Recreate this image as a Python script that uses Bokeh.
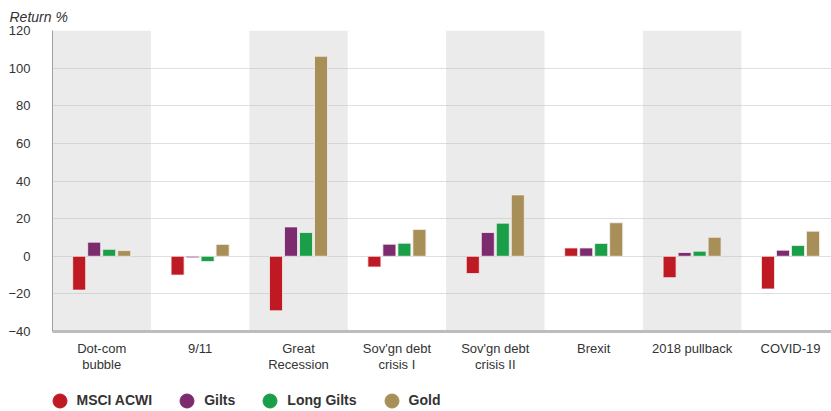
import numpy as np
from bokeh.plotting import figure
from bokeh.layouts import column
from bokeh.models import ColumnDataSource, Range1d, FixedTicker, Legend, LegendItem
from bokeh.transform import dodge
from bokeh.embed import file_html
from bokeh.resources import INLINE

categories = ["Dot-com\nbubble", "9/11", "Great\nRecession", "Sov'gn debt\ncrisis I",
              "Sov'gn debt\ncrisis II", "Brexit", "2018 pullback", "COVID-19"]
series_names = ["MSCI ACWI", "Gilts", "Long Gilts", "Gold"]
msci = [-18, -10, -29, -5.7, -9.2, 4.4, -11.4, -17.4]
gilts = [7.5, -0.8, 15.6, 6.4, 12.6, 4.4, 2.0, 3.2]
long_gilts = [3.7, -2.8, 12.6, 6.9, 17.6, 6.8, 2.7, 5.7]
gold = [3.0, 6.3, 106.3, 14.2, 32.6, 17.8, 10.1, 13.3]
y_ticks = [-40, -20, 0, 20, 40, 60, 80, 100, 120]

colors = ["#BF1A24", "#7B2B6E", "#1A9E48", "#A88F58"]
FONT = "Liberation Sans"

n = len(categories)
centers = np.arange(n) + 0.5
src = ColumnDataSource(dict(x=centers, msci=msci, gilts=gilts, long_gilts=long_gilts, gold=gold))

MAIN_H = 380
p = figure(width=831, height=MAIN_H, output_backend="svg", toolbar_location=None,
           x_range=Range1d(0, 779 / 98.4), y_range=Range1d(y_ticks[0], y_ticks[-1]),
           min_border_left=52, min_border_right=0, min_border_top=29, min_border_bottom=MAIN_H - 331,
           title="Return %")
p.outline_line_color = None
p.background_fill_color = "white"

# alternating bands
band_idx = np.arange(0, n, 2)
p.quad(left=band_idx, right=band_idx + 1, bottom=y_ticks[0], top=y_ticks[-1],
       fill_color="#EBEBEB", line_color=None, level="image")

p.xgrid.grid_line_color = None
p.ygrid.grid_line_color = "#BEBEBE"
p.ygrid.grid_line_dash = "1 1"
p.ygrid.ticker = FixedTicker(ticks=y_ticks)

pitch = 0.1525
width = 0.132
keys = ["msci", "gilts", "long_gilts", "gold"]
for k, (key, col) in enumerate(zip(keys, colors)):
    off = (k - 1.5) * pitch
    p.vbar(x=dodge("x", off), top=key, bottom=0, width=width, source=src,
           fill_color=col, line_color="#F4EFEF", line_width=0.8)

# axes
p.yaxis.ticker = FixedTicker(ticks=y_ticks)
p.yaxis.major_tick_line_color = None
p.yaxis.minor_tick_line_color = None
p.yaxis.axis_line_color = "#A0A0A0"
p.yaxis.major_label_text_font = FONT
p.yaxis.major_label_text_font_size = "13px"
p.yaxis.major_label_text_color = "#333333"
p.yaxis.major_label_standoff = 16

p.xaxis.ticker = FixedTicker(ticks=list(centers))
p.xaxis.major_label_overrides = {float(c): lab for c, lab in zip(centers, categories)}
p.xaxis.major_tick_line_color = None
p.xaxis.minor_tick_line_color = None
p.xaxis.axis_line_color = "#BDBDBD"
p.xaxis.axis_line_width = 3
p.xaxis.major_label_text_font = FONT
p.xaxis.major_label_text_font_size = "13px"
p.xaxis.major_label_text_color = "#333333"
p.xaxis.major_label_text_line_height = 1.1
p.xaxis.major_label_standoff = 3

p.title.text_font = FONT
p.title.text_font_size = "14px"
p.title.text_font_style = "italic"
p.title.text_color = "#333333"
p.title.align = "left"
p.title.offset = -43
p.title.standoff = 12

# legend figure below the chart
LEG_H = 411 - MAIN_H
lf = figure(width=831, height=LEG_H, output_backend="svg", toolbar_location=None,
            x_range=Range1d(0, 1), y_range=Range1d(0, 1),
            min_border=0, min_border_left=0, min_border_right=0, min_border_top=0, min_border_bottom=0)
lf.axis.visible = False
lf.grid.visible = False
lf.outline_line_color = None

legend_items = []
for name, col in zip(series_names, colors):
    s = lf.scatter(x=[np.nan], y=[np.nan], marker="circle", size=14, fill_color=col, line_color=col)
    legend_items.append(LegendItem(label=name, renderers=[s]))

legend = Legend(items=legend_items, orientation="horizontal", location=(-10.5, -6.5),
                glyph_width=35, glyph_height=35, label_standoff=-3, spacing=17,
                padding=0, margin=0, border_line_color=None, background_fill_alpha=0,
                label_text_font=FONT, label_text_font_size="14px", label_text_font_style="bold",
                label_text_color="#333333")
lf.add_layout(legend, "center")

layout = column(p, lf, spacing=0)
open("out.html", "w").write(file_html(layout, INLINE))
